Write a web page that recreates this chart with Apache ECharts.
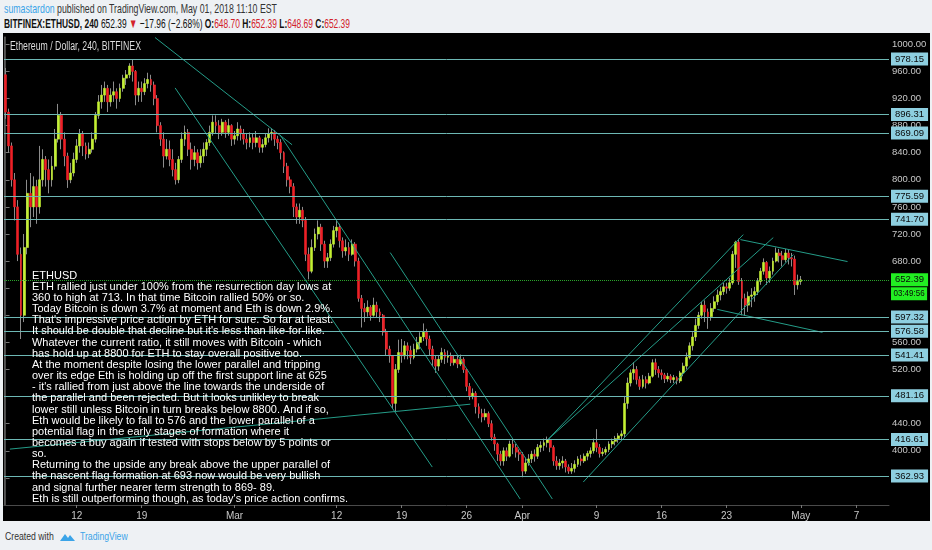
<!DOCTYPE html>
<html>
<head>
<meta charset="utf-8">
<script src="https://cdn.jsdelivr.net/npm/echarts@6/dist/echarts.min.js"></script>
<style>
  html, body { margin: 0; padding: 0; width: 932px; height: 550px; overflow: hidden; background: #eef1f4;
    font-family: "Liberation Sans", Arial, sans-serif; }
  .line { position: absolute; white-space: nowrap; transform-origin: 0 0; }
  #hdr1 { left: 4px; top: 1px; font-size: 13px; color: #333; }
  #hdr1 .user { color: #3ba4e8; }
  #hdr2 { left: 4px; top: 16px; font-size: 13px; color: #111; }
  .b { font-weight: bold; }
  .red { color: #d3222a; }
  #panel { position: absolute; left: 3px; top: 33px; width: 927px; height: 488px; background: #000; }
  #chart { position: absolute; left: 3px; top: 33px; width: 927px; height: 488px; }
  #foot1 { left: 5px; top: 530px; font-size: 11px; color: #333; }
  #foot2 { left: 80px; top: 530px; font-size: 11px; color: #3ba4e8; }
  #logo { position: absolute; left: 59px; top: 531px; }
</style>
</head>
<body>
<div id="hdr1" class="line"><span class="user">sumastardon</span> published on TradingView.com, May 01, 2018 11:10 EST</div>
<div id="hdr2" class="line"><span class="b">BITFINEX:ETHUSD, 240</span> 652.39 <span class="red">&#9660;</span> &minus;17.96 (&minus;2.68%) <span class="b">O:</span><span class="red">648.70</span> <span class="b">H:</span><span class="red">652.39</span> <span class="b">L:</span><span class="red">648.69</span> <span class="b">C:</span><span class="red">652.39</span></div>
<div id="panel"></div>
<div id="chart"></div>
<div id="foot1" class="line">Created with</div>
<svg id="logo" width="17" height="12" viewBox="0 0 17 12"><path d="M1 10 L6 3 L9 7 L11 4 L16 10 Z" fill="#3ba4e8"/></svg>
<div id="foot2" class="line">TradingView</div>
<script>
// 4h chart redrawn as 8h candles, first slot = 2018-02-04 08:00
var firstOpen = 955
var closes = [
  900, 850,
  800, 760, 690,  600, 700, 780,  760, 790, 760,  800, 830, 815,
  800, 820, 860,  895, 860, 835,  800, 810, 830,  850, 868, 850,
  838, 845, 860,  895, 915, 925,  935, 915, 925,  930, 920, 935,
  950, 955, 968,  960, 925, 935,  930, 942, 948,  940, 920, 880,
  860, 835, 845,  830, 815, 800,  830, 860, 870,  845, 830, 840,
  825, 835, 845,  855, 870, 885,  880, 870, 885,  870, 880, 860,
  865, 875, 868,  860, 855, 862,  855, 862, 848,  852, 862, 868,
  870, 860, 855,  840, 820, 800,  790, 760, 745,  755, 740, 690,
  665, 700, 720,  730, 705, 680,  685, 705, 725,  730, 710, 695,
  700, 690, 705,  680, 625, 610,  605, 612, 600,  615, 605, 600,
  575, 550, 540,  470, 520, 545,  540, 555, 548,  538, 550, 560,
  568, 575, 565,  550, 535, 525,  535, 545, 538,  540, 530, 535,
  528, 535, 520,  495, 480, 485,  465, 455, 450,  455, 440, 420,
  410, 395, 385,  400, 392, 410,  405, 398, 395,
  370, 382, 388,  395, 392, 405,  408, 412, 416,  405, 385, 378,
  382, 385, 376,  370, 374, 380,  388, 385, 392,  396, 400, 412,
  405, 396, 398,  402, 410, 414,  418, 422, 425,  470, 500, 515,
  520, 505, 495,  505, 500, 510,  530, 520, 515,  512, 506, 510,
  505, 508, 503,  515, 525, 538,  555, 568, 585,  600, 615, 605,
  598, 610, 620,  630, 635, 642,  640, 648, 690,  708, 650, 625,
  615, 628, 630,  635, 650, 665,  678, 655, 665,  680, 692, 688,
  682, 692, 685,  683, 645, 650,
  652.39
]
var highs = [
  965, 905,
  855, 810, 770,  700, 720, 800,  810, 805, 800,  850, 845, 835,
  830, 835, 875,  912, 900, 870,  840, 825, 840,  860, 875, 872,
  855, 855, 870,  900, 925, 940,  945, 940, 935,  945, 935, 942,
  955, 962, 972,  978, 962, 945,  945, 950, 958,  955, 945, 925,
  885, 870, 860,  858, 845, 825,  835, 870, 880,  875, 855, 850,
  845, 845, 855,  860, 880, 895,  895, 888, 890,  888, 890, 882,
  872, 885, 880,  875, 868, 870,  868, 872, 865,  860, 868, 876,
  876, 873, 865,  860, 842, 825,  805, 795, 765,  765, 760, 745,
  700, 712, 728,  740, 735, 710,  692, 712, 732,  742, 735, 715,
  712, 708, 712,  708, 685, 630,  618, 622, 615,  626, 620, 610,
  602, 580, 555,  540, 528, 564,  565, 562, 560,  555, 558, 568,
  575, 588, 580,  570, 555, 540,  540, 552, 550,  548, 545, 540,
  540, 542, 538,  522, 500, 492,  488, 470, 462,  462, 458, 445,
  425, 412, 400,  405, 405, 415,  418, 410, 402,
  398, 390, 395,  400, 402, 410,  414, 418, 421,  418, 408, 392,
  388, 392, 388,  380, 382, 386,  392, 394, 396,  400, 405, 418,
  432, 410, 404,  406, 414, 418,  422, 426, 430,  481, 508, 520,
  531, 525, 510,  512, 510, 515,  535, 536, 525,  520, 515, 515,
  513, 512, 510,  518, 530, 545,  560, 575, 595,  605, 620, 622,
  610, 618, 628,  638, 642, 648,  648, 655, 695,  710, 713, 655,
  632, 635, 640,  642, 655, 670,  684, 680, 672,  685, 700, 698,
  695, 698, 697,  692, 688, 660,
  658
]
var lows = [
  890, 840,
  790, 740, 680,  565, 590, 690,  730, 745, 735,  750, 790, 790,
  780, 790, 815,  855, 845, 820,  788, 795, 805,  825, 840, 835,
  830, 832, 840,  855, 890, 905,  915, 900, 908,  915, 905, 915,
  930, 940, 950,  945, 910, 915,  915, 925, 935,  930, 910, 870,
  850, 818, 830,  820, 805, 793,  795, 825, 850,  835, 815, 820,
  815, 818, 825,  835, 850, 865,  868, 860, 865,  862, 865, 850,
  852, 858, 858,  852, 845, 848,  845, 848, 840,  840, 848, 855,
  858, 850, 845,  830, 810, 790,  780, 745, 735,  735, 730, 680,
  653, 662, 695,  712, 695, 670,  670, 680, 700,  715, 700, 685,
  688, 680, 688,  672, 620, 582,  590, 598, 592,  598, 596, 590,
  570, 540, 530,  462, 457, 515,  530, 535, 535,  528, 535, 545,
  550, 562, 555,  540, 525, 515,  518, 530, 528,  530, 525, 526,
  522, 525, 515,  488, 475, 476,  455, 448, 442,  445, 435, 415,
  400, 385, 378,  378, 385, 390,  395, 390, 385,
  361, 366, 378,  382, 384, 388,  398, 400, 405,  398, 378, 372,
  372, 374, 368,  366, 366, 368,  376, 378, 382,  386, 390, 396,
  398, 390, 392,  394, 398, 404,  408, 412, 416,  420, 462, 495,
  505, 498, 490,  492, 492, 498,  508, 512, 508,  505, 500, 502,
  500, 500, 498,  500, 510, 520,  535, 548, 562,  580, 595, 590,
  580, 592, 605,  615, 622, 630,  632, 636, 645,  670, 645, 600,
  599, 605, 612,  620, 630, 645,  660, 645, 648,  660, 678, 678,
  672, 678, 675,  672, 630, 638,
  645
]

// horizontal support / resistance levels drawn on the chart
var levels = [978.15, 896.31, 869.09, 775.59, 741.70, 597.32, 576.58, 541.41, 481.16, 416.61, 362.93]
var lastPrice = 652.39
var countdown = '03:49:56'

// drawn trend lines: [slot, price, slot, price]
var trendLines = [
  [48.3, 1010, 92.6, 851.7],
  [54.8, 935.6, 137.9, 376.0],
  [88.7, 866.4, 166.3, 328.9],
  [124.3, 692.6, 176.7, 328.9],
  [1.4, 402.5, 150.2, 468.8],
  [175.4, 417.2, 238.4, 719.1],
  [175.4, 417.2, 248.1, 714.7],
  [186.7, 353.9, 254.6, 689.7],
  [237.5, 711.7, 272.1, 679.3],
  [230.0, 608.7, 264.0, 574.8]
]

var tickDays = ['2018-02-12', '2018-02-19', '2018-03-01', '2018-03-12', '2018-03-19', '2018-03-26',
  '2018-04-01', '2018-04-09', '2018-04-16', '2018-04-23', '2018-05-01', '2018-05-07']
var tickTexts = ['12', '19', 'Mar', '12', '19', '26', 'Apr', '9', '16', '23', 'May', '7']

var note = [
  'ETHUSD',
  'ETH rallied just under 100% from the resurrection day lows at',
  '360 to high at 713. In that time Bitcoin rallied 50% or so.',
  'Today Bitcoin is down 3.7% at moment and Eth is down 2.9%.',
  "That's impressive price action by ETH for sure. So far at least.",
  "It should be double that decline but it's less than like-for-like.",
  'Whatever the current ratio, it still moves with Bitcoin - which',
  'has hold up at 8800 for ETH to stay overall positive too.',
  'At the moment despite losing the lower parallel and tripping',
  'over its edge Eth is holding up off the first support line at 625',
  "- it's rallied from just above the line towards the underside of",
  'the parallel and been rejected. But it looks unlikley to break',
  'lower still unless Bitcoin in turn breaks below 8800. And if so,',
  'Eth would be likely to fall to 576 and the lower parallel of a',
  'potential flag in the early stages of formation where it',
  'becomes a buy again if tested with stops below by 5 points or',
  'so.',
  'Returning to the upside any break above the upper parallel of',
  'the nascent flag formation at 693 now would be very bullish',
  'and signal further nearer term strength to 869- 89.',
  "Eth is still outperforming though, as today's price action confirms."
]
var chartTitle = 'Ethereum / Dollar, 240, BITFINEX'

// the screenshot's text is narrow: squeeze each text block to its width in the picture
function fitWidth(id, target) {
  var el = document.getElementById(id)
  el.style.transform = 'scaleX(' + (target / el.scrollWidth) + ')'
}
fitWidth('hdr1', 273)
fitWidth('hdr2', 346)
fitWidth('foot1', 49)
fitWidth('foot2', 48)

var font = '"Liberation Sans", Arial, sans-serif'
var mctx = document.createElement('canvas').getContext('2d')
function textScale(str, size, target) {
  mctx.font = size + 'px ' + font
  return target / mctx.measureText(str).width
}

var slotCount = 286
var startTime = Date.UTC(2018, 1, 4, 8)
var categories = []
for (var i = 0; i < slotCount; i++) {
  var d = new Date(startTime + i * 8 * 3600 * 1000)
  categories.push(d.toISOString().slice(0, 13).replace('T', ' '))
}
var tickMap = {}
tickDays.forEach(function (day, k) { tickMap[day + ' 00'] = tickTexts[k] })

var wickData = []
var bodyData = []
for (var j = 0; j < closes.length; j++) {
  var o = j ? closes[j - 1] : firstOpen
  var c = closes[j]
  var h = Math.max(highs[j], o, c)
  var l = Math.min(lows[j], o, c)
  wickData.push([o, c, l, h])
  bodyData.push([o, c, Math.min(o, c), Math.max(o, c)])
}

var levelColor = '#6db8b4'
var trendColor = '#249c88'

var levelMarks = levels.map(function (v) {
  return {
    yAxis: v,
    lineStyle: { color: levelColor, width: 1, type: 'solid' },
    label: { backgroundColor: '#8ecfe0', color: '#0a0a0a' }
  }
})
levelMarks.push({
  yAxis: lastPrice,
  lineStyle: { color: '#2aa52a', width: 1, type: 'dotted' },
  label: { backgroundColor: '#22ee22', color: '#0a0a0a' }
})

var trendSeries = trendLines.map(function (t) {
  return {
    type: 'line',
    xAxisIndex: 1,
    yAxisIndex: 0,
    data: [[t[0], t[1]], [t[2], t[3]]],
    symbol: 'none',
    silent: true,
    z: 4,
    lineStyle: { color: trendColor, width: 1 }
  }
})

var chart = echarts.init(document.getElementById('chart'))
var yMin = 320, yMax = 1010.75
var gridRight = 41

chart.setOption({
  animation: false,
  backgroundColor: 'transparent',
  grid: { left: 1, right: gridRight, top: 4, bottom: 15 },
  xAxis: [{
    type: 'category',
    data: categories,
    boundaryGap: true,
    axisLine: { lineStyle: { color: '#4a4a4a' } },
    axisTick: {
      show: true, length: 3, alignWithLabel: true,
      interval: function (idx, val) { return tickMap[val] !== undefined },
      lineStyle: { color: '#777' }
    },
    axisLabel: {
      interval: function (idx, val) { return tickMap[val] !== undefined },
      formatter: function (val) { return tickMap[val] || '' },
      color: '#c8c8c8', fontSize: 10, fontFamily: font, margin: 6
    },
    splitLine: { show: false }
  }, {
    type: 'value',
    min: -0.5, max: slotCount - 0.5,
    show: false
  }],
  yAxis: [{
    type: 'value',
    position: 'right',
    min: yMin, max: yMax, interval: 40,
    axisLine: { show: true, lineStyle: { color: '#4a4a4a' } },
    axisTick: { show: true, length: 4, lineStyle: { color: '#777' } },
    axisLabel: {
      color: '#c8c8c8', fontSize: 9.5, fontFamily: font, margin: 3,
      showMinLabel: false, showMaxLabel: false,
      formatter: function (v) {
        if (v === 360 || v === 480 || v === 600 || v === 640) return ''
        return v.toFixed(2)
      }
    },
    splitLine: { show: false }
  }, {
    type: 'value',
    position: 'left',
    min: yMin, max: yMax,
    axisLine: { show: true, lineStyle: { color: '#555' } },
    axisTick: { show: false },
    axisLabel: { show: false },
    splitLine: { show: false }
  }],
  series: [{
    name: 'wicks',
    type: 'candlestick',
    data: wickData,
    barWidth: 1,
    silent: true,
    itemStyle: { color: '#8c8c8c', color0: '#8c8c8c', borderColor: '#8c8c8c', borderColor0: '#8c8c8c', borderWidth: 1 }
  }, {
    name: 'ETHUSD',
    type: 'candlestick',
    data: bodyData,
    barWidth: 2.4,
    silent: true,
    itemStyle: { color: '#c4f032', color0: '#ee2026', borderColor: '#c4f032', borderColor0: '#ee2026', borderWidth: 0.6 },
    markLine: {
      silent: true,
      symbol: ['none', 'none'],
      animation: false,
      label: {
        show: true, position: 'end', distance: 2,
        fontSize: 9.5, fontFamily: font, padding: [2, 4, 1, 4],
        formatter: function (p) { return Number(p.value).toFixed(2) }
      },
      data: levelMarks
    }
  }].concat(trendSeries)
})

// title, note and countdown box as graphic text
var py = chart.convertToPixel({ yAxisIndex: 0 }, lastPrice)
var px = chart.getWidth() - gridRight + 2
chart.setOption({
  graphic: [{
    id: 'title',
    type: 'text',
    x: 7, y: 8, z: 100, silent: true,
    scaleX: textScale(chartTitle, 12, 131),
    style: { text: chartTitle, fill: '#dcdcdc', fontSize: 12, fontFamily: font, verticalAlign: 'top' }
  }, {
    id: 'note',
    type: 'text',
    x: 29, y: 237, z: 100, silent: true,
    scaleX: textScale(note[note.length - 1], 11.5, 316),
    style: {
      text: note.join('\n'),
      fill: '#ffffff',
      fontSize: 11.5,
      fontFamily: font,
      lineHeight: 11.15,
      verticalAlign: 'top'
    }
  }, {
    id: 'countdown',
    type: 'text',
    x: px, y: py + 14, z: 100, silent: true,
    scaleX: 0.84,
    style: {
      text: countdown,
      fill: '#0a0a0a',
      backgroundColor: '#22ee22',
      padding: [2, 3, 1, 3],
      fontSize: 9.5,
      fontFamily: font,
      verticalAlign: 'middle'
    }
  }]
})
</script>
</body>
</html>
